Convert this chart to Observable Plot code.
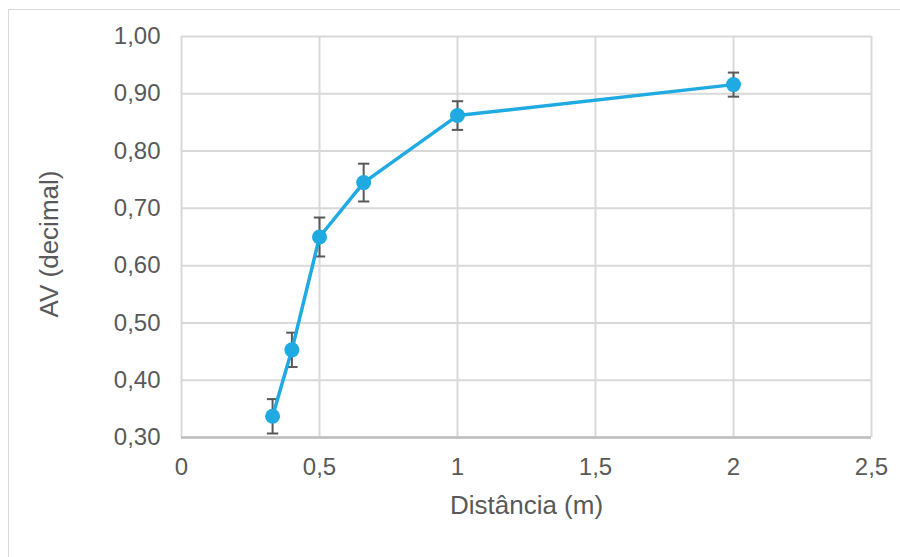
<!DOCTYPE html>
<html>
<head>
<meta charset="utf-8">
<script src="https://cdn.jsdelivr.net/npm/d3@7"></script>
<script src="https://cdn.jsdelivr.net/npm/@observablehq/plot@0.6"></script>
<style>
  html, body { margin: 0; padding: 0; background: #fff; }
  #wrap { position: relative; width: 900px; height: 557px; overflow: hidden; }
  #border { position: absolute; left: 8px; top: 9px; width: 1000px; height: 1000px; border: 1.5px solid #D9D9D9; box-sizing: border-box; }
  #wrap svg { position: absolute; left: 0; top: 0; }
</style>
</head>
<body>
<div id="wrap"><div id="border"></div></div>
<script>
// Data
const distances = [0.33, 0.4, 0.5, 0.66, 1, 2];
const avValues  = [0.337, 0.453, 0.650, 0.745, 0.862, 0.916];
const avErrors  = [0.030, 0.030, 0.034, 0.033, 0.025, 0.021];
const xTicks = [0, 0.5, 1, 1.5, 2, 2.5];
const yTicks = [0.30, 0.40, 0.50, 0.60, 0.70, 0.80, 0.90, 1.00];
const xTitle = "Distância (m)";
const yTitle = "AV (decimal)";

const data = distances.map((d, i) => ({
  x: d, y: avValues[i], lo: avValues[i] - avErrors[i], hi: avValues[i] + avErrors[i]
}));
const caps = data.flatMap(d => [{x: d.x, y: d.lo}, {x: d.x, y: d.hi}]);

const fmt = v => String(v).replace(".", ",");
const fmtY = v => v.toFixed(2).replace(".", ",");

const capSymbol = {
  draw(ctx) { ctx.moveTo(-5.7, 0); ctx.lineTo(5.7, 0); }
};

const blue = "#1FAAE1";
const gray = "#595959";

const chart = Plot.plot({
  width: 900,
  height: 557,
  marginTop: 36,
  marginLeft: 181,
  marginRight: 29,
  marginBottom: 120,
  style: { background: "transparent", fontFamily: "'Liberation Sans', Arial, sans-serif" },
  x: { domain: [0, 2.5] },
  y: { domain: [0.3, 1.0] },
  marks: [
    Plot.gridX(xTicks, { stroke: "#D9D9D9", strokeOpacity: 1, strokeWidth: 2 }),
    Plot.gridY(yTicks, { stroke: "#D9D9D9", strokeOpacity: 1, strokeWidth: 2 }),
    Plot.ruleY([0.3], { stroke: "#BFBFBF", strokeWidth: 2.5 }),
    Plot.axisX(xTicks, { tickSize: 0, tickPadding: 20, tickFormat: fmt, fontSize: 24, fill: gray, label: null }),
    Plot.axisY(yTicks, { tickSize: 0, tickPadding: 21, tickFormat: fmtY, fontSize: 24, fill: gray, label: null }),
    Plot.ruleX(data, { x: "x", y1: "lo", y2: "hi", stroke: gray, strokeWidth: 2 }),
    Plot.dot(caps, { x: "x", y: "y", symbol: capSymbol, stroke: gray, strokeWidth: 2, fill: "none", r: 6 }),
    Plot.line(data, { x: "x", y: "y", stroke: blue, strokeWidth: 3.5 }),
    Plot.dot(data, { x: "x", y: "y", r: 7.5, fill: blue, stroke: "none" }),
    Plot.text([xTitle], { frameAnchor: "bottom", textAnchor: "middle", lineAnchor: "bottom", dy: 76, fontSize: 26, fill: gray }),
    Plot.text([yTitle], { frameAnchor: "left", textAnchor: "middle", lineAnchor: "bottom", rotate: -90, dx: -124, dy: 7, fontSize: 26, fill: gray })
  ]
});
document.getElementById("wrap").appendChild(chart);
</script>
</body>
</html>
